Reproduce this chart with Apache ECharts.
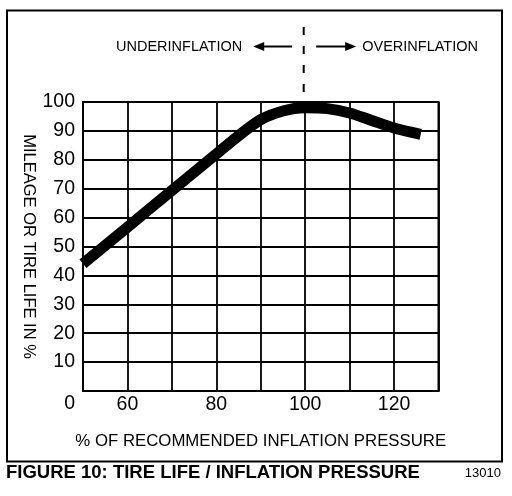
<!DOCTYPE html>
<html>
<head>
    <meta charset="utf-8">
    <title>Tire Life / Inflation Pressure</title>
    <script src="https://cdn.jsdelivr.net/npm/echarts@6/dist/echarts.min.js"></script>
</head>
<body style="margin:0px;background:#fff;">
    <div id="main" style="width: 512px;height:496px;"></div>
    <script type="text/javascript">
    // % of recommended inflation pressure vs. mileage (tire life) in %
    var pressure = [50, 60, 70, 80, 85, 90, 95, 100, 105, 110, 115, 120, 126];
    var mileage  = [44, 56.7, 69.4, 82, 88.3, 93.9, 96.9, 98, 97.7, 96.2, 93.6, 91, 88.8];

    var xTickLabels = [60, 80, 100, 120];
    var yTickLabels = [10, 20, 30, 40, 50, 60, 70, 80, 90, 100];
    var originLabel = '0';

    var FONT = '"Liberation Sans", Arial, sans-serif';
    </script>
    <script type="text/javascript">
        var myChart = echarts.init(document.getElementById('main'));

        var points = pressure.map(function (p, i) { return [p, mileage[i]]; });

        myChart.setOption(option = {
            animation: false,
            backgroundColor: '#fff',
            title: [{
                text: 'FIGURE 10: TIRE LIFE / INFLATION PRESSURE',
                left: 6,
                top: 463,
                padding: 0,
                textStyle: { fontFamily: FONT, fontSize: 18.5, fontWeight: 'bold', color: '#000' }
            }, {
                text: '13010',
                right: 11,
                top: 467,
                padding: 0,
                textStyle: { fontFamily: FONT, fontSize: 13, fontWeight: 'normal', color: '#000' }
            }],
            grid: {
                left: 83,
                right: 73.5,
                top: 102,
                bottom: 105,
                show: true,
                borderColor: '#000',
                borderWidth: 2
            },
            xAxis: {
                type: 'value',
                min: 50,
                max: 130,
                interval: 10,
                name: '% OF RECOMMENDED INFLATION PRESSURE',
                nameLocation: 'middle',
                nameGap: 42,
                nameMoveOverlap: false,
                nameTextStyle: { fontFamily: FONT, fontSize: 16.8, color: '#000' },
                axisLine: { show: true, lineStyle: { color: '#000', width: 2 } },
                axisTick: { show: false },
                splitLine: { show: true, lineStyle: { color: '#000', width: 1.8 } },
                axisLabel: {
                    margin: 4,
                    fontFamily: FONT,
                    fontSize: 19.5,
                    color: '#000',
                    formatter: function (v) { return xTickLabels.indexOf(v) >= 0 ? String(v) : ''; }
                }
            },
            yAxis: {
                type: 'value',
                min: 0,
                max: 100,
                interval: 10,
                name: 'MILEAGE OR TIRE LIFE IN %',
                nameLocation: 'middle',
                nameRotate: -90,
                nameGap: 46,
                nameMoveOverlap: false,
                nameTextStyle: { fontFamily: FONT, fontSize: 16.5, color: '#000' },
                axisLine: { show: true, lineStyle: { color: '#000', width: 2 } },
                axisTick: { show: false },
                splitLine: { show: true, lineStyle: { color: '#000', width: 1.8 } },
                axisLabel: {
                    margin: 8,
                    fontFamily: FONT,
                    fontSize: 19.5,
                    color: '#000',
                    formatter: function (v) { return yTickLabels.indexOf(v) >= 0 ? String(v) : ''; }
                }
            },
            series: [{
                name: 'tire life',
                type: 'line',
                data: points,
                smooth: 0.3,
                symbol: 'none',
                clip: true,
                lineStyle: { color: '#000', width: 11, cap: 'butt' }
            }]
        });

        // annotations above the plot, placed from the axis scale
        var dashX = myChart.convertToPixel({ xAxisIndex: 0 }, 100);
        var plotTop = myChart.convertToPixel({ yAxisIndex: 0 }, 100);
        var plotLeft = myChart.convertToPixel({ xAxisIndex: 0 }, 50);
        var arrowY = 46.5;

        myChart.setOption({
            graphic: [
                {   // frame
                    type: 'rect',
                    shape: { x: 7, y: 10.5, width: 495, height: 451 },
                    style: { fill: 'none', stroke: '#000', lineWidth: 2 }
                },
                {   // dashed 100% line
                    type: 'line',
                    shape: { x1: dashX - 1.5, y1: 27, x2: dashX - 1.5, y2: plotTop },
                    style: { stroke: '#000', lineWidth: 2, lineDash: [8, 11] }
                },
                {
                    type: 'line',
                    shape: { x1: dashX - 13, y1: arrowY, x2: dashX - 42, y2: arrowY },
                    style: { stroke: '#000', lineWidth: 2 }
                },
                {
                    type: 'polygon',
                    shape: { points: [[dashX - 52, arrowY], [dashX - 41, arrowY - 4.5], [dashX - 41, arrowY + 4.5]] },
                    style: { fill: '#000' }
                },
                {
                    type: 'line',
                    shape: { x1: dashX + 11, y1: arrowY, x2: dashX + 42, y2: arrowY },
                    style: { stroke: '#000', lineWidth: 2 }
                },
                {
                    type: 'polygon',
                    shape: { points: [[dashX + 51, arrowY], [dashX + 40, arrowY - 4.5], [dashX + 40, arrowY + 4.5]] },
                    style: { fill: '#000' }
                },
                {
                    type: 'text',
                    x: dashX - 63, y: arrowY,
                    style: { text: 'UNDERINFLATION', font: '14.5px ' + FONT, fill: '#000', align: 'right', verticalAlign: 'middle' }
                },
                {
                    type: 'text',
                    x: dashX + 57, y: arrowY,
                    style: { text: 'OVERINFLATION', font: '14.5px ' + FONT, fill: '#000', align: 'left', verticalAlign: 'middle' }
                },
                {   // origin label sits below the corner
                    type: 'text',
                    x: plotLeft - 8, y: 404,
                    style: { text: originLabel, font: '19.5px ' + FONT, fill: '#000', align: 'right', verticalAlign: 'middle' }
                }
            ]
        });
    </script>
</body>
</html>
